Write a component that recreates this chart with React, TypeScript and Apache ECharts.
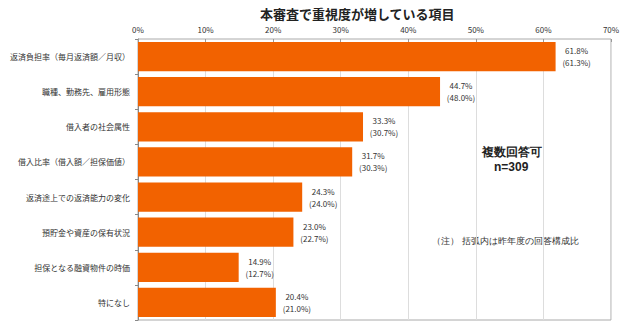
import React, { useEffect, useRef } from "react";
import * as echarts from "echarts";

const title = "本審査で重視度が増している項目";
const categories = [
  "返済負担率（毎月返済額／月収）",
  "職種、勤務先、雇用形態",
  "借入者の社会属性",
  "借入比率（借入額／担保価値）",
  "返済途上での返済能力の変化",
  "預貯金や資産の保有状況",
  "担保となる融資物件の時価",
  "特になし",
];
const currentValues = [61.8, 44.7, 33.3, 31.7, 24.3, 23.0, 14.9, 20.4];
const previousValues = [61.3, 48.0, 30.7, 30.3, 24.0, 22.7, 12.7, 21.0];
const xTicks = [0, 10, 20, 30, 40, 50, 60, 70];
const noteMultiple = "複数回答可";
const noteN = "n=309";
const noteParen = "（注） 括弧内は昨年度の回答構成比";

const FONT = "'Noto Sans CJK JP', 'Noto Sans', sans-serif";

export default function App() {
  const ref = useRef<HTMLDivElement>(null);
  useEffect(() => {
    if (!ref.current) return;
    const chart = echarts.init(ref.current, undefined, { renderer: "svg" });
    chart.setOption({
      animation: false,
      backgroundColor: "#ffffff",
      textStyle: { fontFamily: FONT },
      title: {
        text: title,
        left: 255,
        top: 2,
        textStyle: { fontSize: 13, fontWeight: "bold", color: "#222", fontFamily: FONT },
      },
      grid: {
        left: 138,
        right: 29,
        top: 39,
        bottom: 7,
        show: true,
        borderColor: "#aaaaaa",
        borderWidth: 1,
      },
      xAxis: {
        type: "value",
        position: "top",
        min: 0,
        max: 70,
        interval: 10,
        axisLine: { show: false },
        axisTick: { show: true, inside: true, length: 3, lineStyle: { color: "#999" } },
        axisLabel: {
          formatter: (v: number) => (xTicks.includes(v) ? v + "%" : ""),
          fontSize: 8,
          color: "#333",
          margin: 6,
          fontFamily: FONT,
        },
        splitLine: { show: true, lineStyle: { color: "#dddddd", width: 1 } },
      },
      yAxis: {
        type: "category",
        inverse: true,
        data: categories,
        axisLine: { show: true, lineStyle: { color: "#888" } },
        axisTick: { show: true, length: 3, lineStyle: { color: "#888" } },
        axisLabel: { fontSize: 8, color: "#333", margin: 8, fontFamily: FONT },
      },
      series: [
        {
          type: "bar",
          data: currentValues,
          barCategoryGap: "17%",
          itemStyle: { color: "#F26200" },
          label: {
            show: true,
            position: "right",
            distance: 4,
            formatter: (p: any) =>
              `{a|${currentValues[p.dataIndex].toFixed(1)}%}\n{a|(${previousValues[p.dataIndex].toFixed(1)}%)}`,
            rich: {
              a: { width: 34, align: "center", fontSize: 8, lineHeight: 12, color: "#333", fontFamily: FONT },
            },
          },
        },
      ],
      graphic: [
        {
          type: "text",
          left: 482,
          top: 146,
          style: { text: noteMultiple, fontSize: 12, fontWeight: "bold", fill: "#222", font: `bold 12px ${FONT}` },
        },
        {
          type: "text",
          left: 494,
          top: 161,
          style: { text: noteN, fontSize: 12, fontWeight: "bold", fill: "#222", font: `bold 12px ${FONT}` },
        },
        {
          type: "text",
          left: 432,
          top: 236,
          style: { text: noteParen, fontSize: 9, fill: "#333", font: `9px ${FONT}` },
        },
      ],
    });
    return () => chart.dispose();
  }, []);
  return <div ref={ref} style={{ width: 640, height: 327, position: "absolute", left: 0, top: 0 }} />;
}
